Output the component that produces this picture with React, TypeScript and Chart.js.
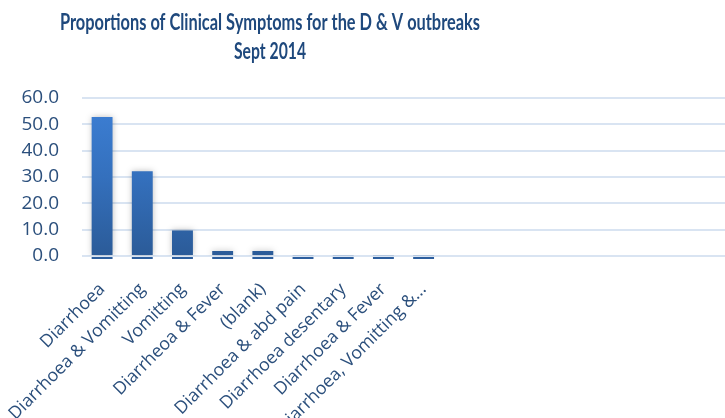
import React, { useEffect, useRef } from "react";
import { Chart, registerables } from "chart.js";

Chart.register(...registerables);

const titleLines = ["Proportions of Clinical Symptoms for the D & V outbreaks", "Sept 2014"];
const categories = [
  "Diarrhoea",
  "Diarrhoea & Vomitting",
  "Vomitting",
  "Diarrheoa & Fever",
  "(blank)",
  "Diarrhoea & abd pain",
  "Diarrhoea desentary",
  "Diarrhoea & Fever",
  "Diarrhoea, Vomitting &...",
  "", "", "", "", "", "", "",
];
const values = [52.8, 32.2, 9.7, 1.9, 1.9, 0.3, 0.3, 0.3, 0.3, null, null, null, null, null, null, null];
const yMin = 0;
const yMax = 60;
const yStep = 10;

const TEXT = "#2b4f7c";
const TITLE = "#1f497d";

const titlePlugin = {
  id: "customTitle",
  afterDraw(chart: any) {
    const ctx = chart.ctx;
    ctx.save();
    ctx.fillStyle = TITLE;
    ctx.font = "bold 22px Lato, 'Open Sans'";
    ctx.textAlign = "center";
    ctx.textBaseline = "alphabetic";
    const cx = 270;
    titleLines.forEach((t, i) => {
      const w = ctx.measureText(t).width;
      const target = i === 0 ? 420 : 72;
      const s = Math.min(1, target / w);
      ctx.save();
      ctx.translate(cx, 30 + i * 29);
      ctx.scale(s, 1);
      ctx.fillText(t, 0, 0);
      ctx.restore();
    });
    ctx.restore();
  },
};

const baseLinePlugin = {
  id: "baseLines",
  beforeDatasetsDraw(chart: any) {
    const ctx = chart.ctx;
    ctx.save();
    ctx.shadowColor = "rgba(0,0,0,0.25)";
    ctx.shadowBlur = 6;
  },
  afterDatasetsDraw(chart: any) {
    const ctx = chart.ctx;
    ctx.restore();
    const meta = chart.getDatasetMeta(0);
    const y0 = chart.scales.y.getPixelForValue(0);
    ctx.save();
    ctx.fillStyle = "#2c5e9e";
    meta.data.forEach((bar: any, i: number) => {
      if (values[i] === null) return;
      ctx.fillRect(bar.x - bar.width / 2, y0 + 1, bar.width, 2);
    });
    ctx.restore();
  },
};

export default function App() {
  const ref = useRef<HTMLCanvasElement>(null);
  useEffect(() => {
    if (!ref.current) return;
    const chart = new Chart(ref.current, {
      type: "bar",
      data: {
        labels: categories,
        datasets: [
          {
            data: values as any,
            backgroundColor: (c: any) => {
              const area = c.chart.chartArea;
              if (!area) return "#3b7bd0";
              const g = c.chart.ctx.createLinearGradient(0, area.bottom, 0, area.top);
              g.addColorStop(0, "#2b5b98");
              g.addColorStop(0.5, "#3470bd");
              g.addColorStop(1, "#3d80d6");
              return g;
            },
            borderWidth: 0,
            categoryPercentage: 1,
            barPercentage: 0.52,
          },
        ],
      },
      options: {
        animation: false,
        responsive: true,
        maintainAspectRatio: false,
        layout: { padding: { top: 98, right: 0, left: 0, bottom: 0 } },
        plugins: {
          legend: { display: false },
          title: { display: false },
          tooltip: { enabled: false },
        },
        scales: {
          x: {
            grid: { display: false, drawTicks: false },
            border: { display: false },
            afterFit: (s: any) => {
              s.height = 162;
              s.paddingLeft = 0;
              s.paddingRight = 0;
            },
            ticks: {
              autoSkip: false,
              maxRotation: 45,
              minRotation: 45,
              color: TEXT,
              font: { family: "'Open Sans'", size: 17.7 },
              padding: 23,
            },
          },
          y: {
            min: yMin,
            max: yMax,
            grid: { color: "#d9e4f2", lineWidth: 2, drawTicks: false },
            border: { display: false },
            afterFit: (s: any) => {
              s.width = 82;
              s.paddingTop = 0;
              s.paddingBottom = 0;
              s.paddingLeft = 0;
              s.paddingRight = 0;
            },
            ticks: {
              stepSize: yStep,
              color: TEXT,
              font: { family: "'Open Sans'", size: 19 },
              padding: 23,
              callback: (v: any) => Number(v).toFixed(1),
            },
          },
        },
      },
      plugins: [titlePlugin, baseLinePlugin],
    });
    return () => chart.destroy();
  }, []);
  return (
    <div style={{ position: "absolute", left: 0, top: 0, width: 725, height: 418, background: "#fff" }}>
      <canvas ref={ref} />
    </div>
  );
}
